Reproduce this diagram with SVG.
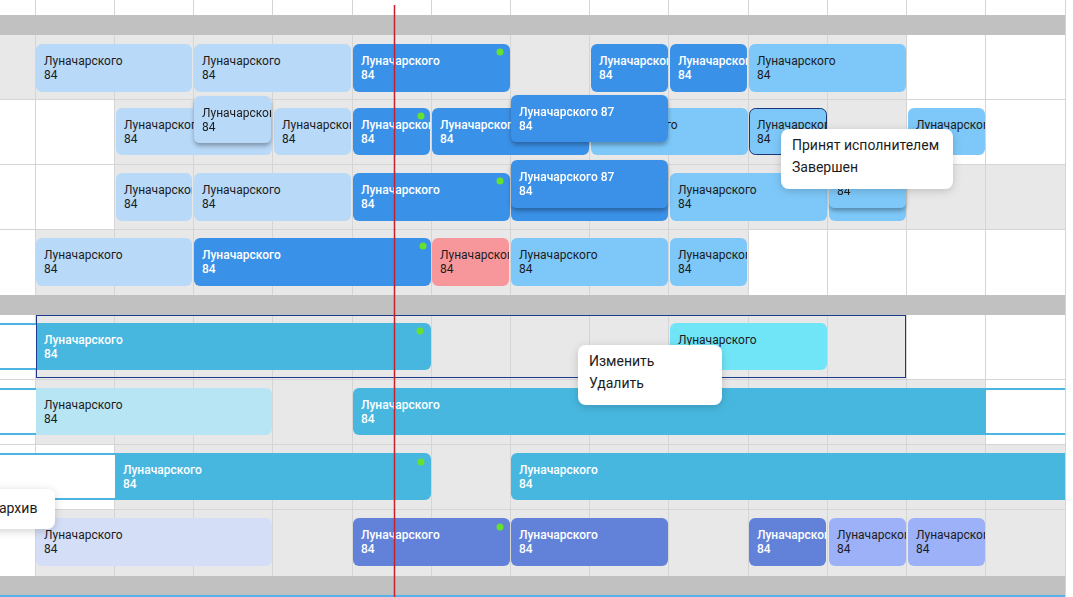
<svg xmlns="http://www.w3.org/2000/svg" width="1073" height="597" viewBox="0 0 1073 597">
<style>
text{font-family:Roboto,"Liberation Sans",sans-serif;font-size:12px}
.tb{fill:#1c1c1c}
.tw{fill:#ffffff;font-weight:500}
.pt{font-size:14px;fill:#1c1c1c}
.lt{fill:#b9d9f8}
.md{fill:#7dc8f9}
.dk{fill:#3a91e8}
.pk{fill:#f8979b}
.cy{fill:#47b7df}
.lc{fill:#b8e5f4}
.bc{fill:#70e5f8}
.lv{fill:#d4def7}
.pw{fill:#6282da}
.lp{fill:#9cb1f8}
.dot{fill:#66e22e}
.gr{fill:#e8e8e8}
.bar{fill:#c1c1c1}
.gl{stroke:#d5d5d5;stroke-width:1}
.gh{stroke:#4cb4e2;stroke-width:2;fill:none}
.pop{fill:#ffffff}
</style>
<defs>
<filter id="sh" x="-20%" y="-30%" width="140%" height="170%"><feDropShadow dx="0" dy="3" stdDeviation="2" flood-color="#000" flood-opacity="0.3"/></filter>
<filter id="psh" x="-20%" y="-40%" width="140%" height="180%"><feDropShadow dx="0" dy="2" stdDeviation="4" flood-color="#000" flood-opacity="0.18"/></filter>
</defs>
<rect width="1073" height="597" fill="#ffffff"/>
<g id="grid">
<rect class="gr" x="0" y="35" width="907" height="64"/>
<rect class="gr" x="114" y="99" width="793" height="65"/>
<rect class="gr" x="114" y="164" width="951" height="65"/>
<rect class="gr" x="35" y="229" width="713" height="66"/>
<rect class="gr" x="35" y="315" width="872" height="64"/>
<rect class="gr" x="35" y="379" width="951" height="65"/>
<rect class="gr" x="114" y="444" width="951" height="65"/>
<rect class="gr" x="35" y="509" width="1030" height="67"/>
<g class="gl">
<line x1="35.5" y1="0" x2="35.5" y2="597"/>
<line x1="114.5" y1="0" x2="114.5" y2="597"/>
<line x1="193.5" y1="0" x2="193.5" y2="597"/>
<line x1="272.5" y1="0" x2="272.5" y2="597"/>
<line x1="352.5" y1="0" x2="352.5" y2="597"/>
<line x1="431.5" y1="0" x2="431.5" y2="597"/>
<line x1="510.5" y1="0" x2="510.5" y2="597"/>
<line x1="589.5" y1="0" x2="589.5" y2="597"/>
<line x1="668.5" y1="0" x2="668.5" y2="597"/>
<line x1="748.5" y1="0" x2="748.5" y2="597"/>
<line x1="827.5" y1="0" x2="827.5" y2="597"/>
<line x1="906.5" y1="0" x2="906.5" y2="597"/>
<line x1="985.5" y1="0" x2="985.5" y2="597"/>
<line x1="1065.5" y1="0" x2="1065.5" y2="597"/>
<line x1="0" y1="99.5" x2="1065" y2="99.5"/>
<line x1="0" y1="164.5" x2="1065" y2="164.5"/>
<line x1="0" y1="229.5" x2="1065" y2="229.5"/>
<line x1="0" y1="379.5" x2="1065" y2="379.5"/>
<line x1="0" y1="444.5" x2="1065" y2="444.5"/>
<line x1="0" y1="509.5" x2="1065" y2="509.5"/>
</g>
<rect class="bar" x="0" y="15" width="1065" height="20"/>
<rect class="bar" x="0" y="295" width="1065" height="20"/>
<rect class="bar" x="0" y="576" width="1065" height="19"/>
<rect x="0" y="595" width="1065" height="2" fill="#58b2e8"/>
</g>
<g id="connectors"></g>
<g id="row1">
<g id="a1"><svg x="36" y="44" width="156" height="48"><rect class="lt" width="156" height="48" rx="6"/><text class="tb" x="8" y="21">Луначарского</text><text class="tb" x="8" y="35">84</text></svg></g>
<g id="a2"><svg x="194" y="44" width="157" height="48"><rect class="lt" width="157" height="48" rx="6"/><text class="tb" x="8" y="21">Луначарского</text><text class="tb" x="8" y="35">84</text></svg></g>
<g id="a3"><svg x="353" y="44" width="157" height="48"><rect class="dk" width="157" height="48" rx="6"/><text class="tw" x="8" y="21">Луначарского</text><text class="tw" x="8" y="35">84</text><circle class="dot" cx="147" cy="8" r="3.5"/></svg></g>
<g id="a4"><svg x="591" y="44" width="77" height="48"><rect class="dk" width="77" height="48" rx="6"/><text class="tw" x="8" y="21">Луначарского</text><text class="tw" x="8" y="35">84</text></svg></g>
<g id="a5"><svg x="670" y="44" width="77" height="48"><rect class="dk" width="77" height="48" rx="6"/><text class="tw" x="8" y="21">Луначарского</text><text class="tw" x="8" y="35">84</text></svg></g>
<g id="a6"><svg x="749" y="44" width="157" height="48"><rect class="md" width="157" height="48" rx="6"/><text class="tb" x="8" y="21">Луначарского</text><text class="tb" x="8" y="35">84</text></svg></g>
</g>
<g id="row2">
<g id="b1"><svg x="116" y="108" width="156" height="47"><rect class="lt" width="156" height="47" rx="6"/><text class="tb" x="8" y="21">Луначарского</text><text class="tb" x="8" y="35">84</text></svg></g>
<g id="b3"><svg x="274" y="108" width="77" height="47"><rect class="lt" width="77" height="47" rx="6"/><text class="tb" x="8" y="21">Луначарского</text><text class="tb" x="8" y="35">84</text></svg></g>
<g id="b2" filter="url(#sh)"><svg x="194" y="96" width="77" height="47"><rect class="lt" width="77" height="47" rx="6"/><text class="tb" x="8" y="21">Луначарского</text><text class="tb" x="8" y="35">84</text></svg></g>
<g id="b4"><svg x="353" y="108" width="77" height="47"><rect class="dk" width="77" height="47" rx="6"/><text class="tw" x="8" y="21">Луначарского</text><text class="tw" x="8" y="35">84</text><circle class="dot" cx="68" cy="8" r="3.5"/></svg></g>
<g id="b5"><svg x="432" y="108" width="157" height="47"><rect class="dk" width="157" height="47" rx="6"/><text class="tw" x="8" y="21">Луначарского</text><text class="tw" x="8" y="35">84</text></svg></g>
<g id="b6"><svg x="591" y="108" width="157" height="47"><rect class="md" width="157" height="47" rx="6"/><text class="tb" x="8" y="21">Луначарского</text></svg></g>
<g id="b7"><svg x="749" y="108" width="78" height="47"><rect class="md" x="0.5" y="0.5" width="77" height="46" rx="6" stroke="#1c3578" stroke-width="1"/><text class="tb" x="8" y="21">Луначарского</text><text class="tb" x="8" y="35">84</text></svg></g>
<g id="b8"><svg x="908" y="108" width="77" height="47"><rect class="md" width="77" height="47" rx="6"/><text class="tb" x="8" y="21">Луначарского</text></svg></g>
<g id="b9" filter="url(#sh)"><svg x="511" y="95" width="157" height="47"><rect class="dk" width="157" height="47" rx="6"/><text class="tw" x="8" y="21">Луначарского 87</text><text class="tw" x="8" y="35">84</text></svg></g>
</g>
<g id="row3">
<g id="c1"><svg x="116" y="173" width="76" height="48"><rect class="lt" width="76" height="48" rx="6"/><text class="tb" x="8" y="21">Луначарского</text><text class="tb" x="8" y="35">84</text></svg></g>
<g id="c2"><svg x="194" y="173" width="157" height="48"><rect class="lt" width="157" height="48" rx="6"/><text class="tb" x="8" y="21">Луначарского</text><text class="tb" x="8" y="35">84</text></svg></g>
<g id="c3"><svg x="353" y="173" width="157" height="48"><rect class="dk" width="157" height="48" rx="6"/><text class="tw" x="8" y="21">Луначарского</text><text class="tw" x="8" y="35">84</text><circle class="dot" cx="147" cy="8" r="3.5"/></svg></g>
<g id="c4"><svg x="511" y="173" width="157" height="48"><rect class="dk" width="157" height="48" rx="6"/></svg></g>
<g id="c6"><svg x="670" y="173" width="157" height="48"><rect class="md" width="157" height="48" rx="6"/><text class="tb" x="8" y="21">Луначарского</text><text class="tb" x="8" y="35">84</text></svg></g>
<g id="c7"><svg x="829" y="173" width="77" height="48"><rect class="md" width="77" height="48" rx="6"/></svg></g>
<g id="c5" filter="url(#sh)"><svg x="511" y="160" width="157" height="48"><rect class="dk" width="157" height="48" rx="6"/><text class="tw" x="8" y="21">Луначарского 87</text><text class="tw" x="8" y="35">84</text></svg></g>
<g id="c8" filter="url(#sh)"><svg x="829" y="160" width="77" height="48"><rect class="md" width="77" height="48" rx="6"/><text class="tb" x="8" y="35">84</text></svg></g>
</g>
<g id="row4">
<g id="d1"><svg x="36" y="238" width="156" height="48"><rect class="lt" width="156" height="48" rx="6"/><text class="tb" x="8" y="21">Луначарского</text><text class="tb" x="8" y="35">84</text></svg></g>
<g id="d2"><svg x="194" y="238" width="237" height="48"><rect class="dk" width="237" height="48" rx="6"/><text class="tw" x="8" y="21">Луначарского</text><text class="tw" x="8" y="35">84</text><circle class="dot" cx="229" cy="8" r="3.5"/></svg></g>
<g id="d3"><svg x="432" y="238" width="77" height="48"><rect class="pk" width="77" height="48" rx="6"/><text class="tb" x="8" y="21">Луначарского</text><text class="tb" x="8" y="35">84</text></svg></g>
<g id="d4"><svg x="511" y="238" width="157" height="48"><rect class="md" width="157" height="48" rx="6"/><text class="tb" x="8" y="21">Луначарского</text><text class="tb" x="8" y="35">84</text></svg></g>
<g id="d5"><svg x="670" y="238" width="77" height="48"><rect class="md" width="77" height="48" rx="6"/><text class="tb" x="8" y="21">Луначарского</text><text class="tb" x="8" y="35">84</text></svg></g>
</g>
<g id="row5">
<g id="e0"><rect x="0" y="324" width="36" height="45" fill="#ffffff"/><line class="gh" x1="0" y1="324" x2="36" y2="324"/><line class="gh" x1="0" y1="369" x2="36" y2="369"/></g>
<g id="e1"><svg x="36" y="323" width="395" height="47"><rect class="cy" width="395" height="47" rx="6"/><rect class="cy" width="10" height="47"/><text class="tw" x="8" y="21">Луначарского</text><text class="tw" x="8" y="35">84</text><circle class="dot" cx="384" cy="8" r="3.5"/></svg></g>
<g id="e2"><svg x="670" y="323" width="157" height="47"><rect class="bc" width="157" height="47" rx="6"/><text class="tb" x="8" y="21">Луначарского</text></svg></g>
<rect id="selection" x="36.5" y="315.5" width="869" height="62" fill="none" stroke="#1c3a8a" stroke-width="1"/>
</g>
<g id="row6">
<g id="f0"><rect x="0" y="389" width="36" height="45" fill="#ffffff"/><line class="gh" x1="0" y1="389" x2="36" y2="389"/><line class="gh" x1="0" y1="434" x2="36" y2="434"/></g>
<g id="f1"><svg x="36" y="388" width="236" height="47"><rect class="lc" width="236" height="47" rx="6"/><rect class="lc" width="10" height="47"/><text class="tb" x="8" y="21">Луначарского</text><text class="tb" x="8" y="35">84</text></svg></g>
<g id="f2"><svg x="353" y="388" width="633" height="47"><rect class="cy" width="633" height="47" rx="6"/><rect class="cy" x="620" width="13" height="47"/><text class="tw" x="8" y="21">Луначарского</text><text class="tw" x="8" y="35">84</text></svg></g>
<g id="f3"><rect x="986" y="389" width="79" height="45" fill="#ffffff"/><line class="gh" x1="986" y1="389" x2="1065" y2="389"/><line class="gh" x1="986" y1="434" x2="1065" y2="434"/></g>
</g>
<g id="row7">
<g id="g0"><rect x="0" y="454" width="115" height="45" fill="#ffffff"/><line class="gh" x1="0" y1="454" x2="115" y2="454"/><line class="gh" x1="0" y1="499" x2="115" y2="499"/></g>
<g id="g1"><svg x="115" y="453" width="316" height="47"><rect class="cy" width="316" height="47" rx="6"/><rect class="cy" width="10" height="47"/><text class="tw" x="8" y="21">Луначарского</text><text class="tw" x="8" y="35">84</text><circle class="dot" cx="306" cy="9" r="3.5"/></svg></g>
<g id="g2"><svg x="511" y="453" width="554" height="47"><rect class="cy" width="554" height="47" rx="6"/><rect class="cy" x="540" width="14" height="47"/><text class="tw" x="8" y="21">Луначарского</text><text class="tw" x="8" y="35">84</text></svg></g>
</g>
<g id="row8">
<g id="h1"><svg x="36" y="518" width="236" height="48"><rect class="lv" width="236" height="48" rx="6"/><text class="tb" x="8" y="21">Луначарского</text><text class="tb" x="8" y="35">84</text></svg></g>
<g id="h2"><svg x="353" y="518" width="157" height="48"><rect class="pw" width="157" height="48" rx="6"/><text class="tw" x="8" y="21">Луначарского</text><text class="tw" x="8" y="35">84</text><circle class="dot" cx="147" cy="9" r="3.5"/></svg></g>
<g id="h3"><svg x="511" y="518" width="157" height="48"><rect class="pw" width="157" height="48" rx="6"/><text class="tw" x="8" y="21">Луначарского</text><text class="tw" x="8" y="35">84</text></svg></g>
<g id="h4"><svg x="749" y="518" width="77" height="48"><rect class="pw" width="77" height="48" rx="6"/><text class="tw" x="8" y="21">Луначарского</text><text class="tw" x="8" y="35">84</text></svg></g>
<g id="h5"><svg x="829" y="518" width="77" height="48"><rect class="lp" width="77" height="48" rx="6"/><text class="tb" x="8" y="21">Луначарского</text><text class="tb" x="8" y="35">84</text></svg></g>
<g id="h6"><svg x="908" y="518" width="77" height="48"><rect class="lp" width="77" height="48" rx="6"/><text class="tb" x="8" y="21">Луначарского</text><text class="tb" x="8" y="35">84</text></svg></g>
</g>
<line id="now-line" x1="394.5" y1="5" x2="394.5" y2="597" stroke="#c8202a" stroke-width="1.5"/>
<g id="menu-status">
<rect class="pop" x="781" y="129" width="172" height="60" rx="8" filter="url(#psh)"/>
<text class="pt" x="792" y="150">Принят исполнителем</text>
<text class="pt" x="792" y="172">Завершен</text>
</g>
<g id="menu-edit">
<rect class="pop" x="578" y="345" width="144" height="60" rx="8" filter="url(#psh)"/>
<text class="pt" x="589" y="366">Изменить</text>
<text class="pt" x="589" y="388">Удалить</text>
</g>
<g id="menu-archive">
<rect class="pop" x="-20" y="489" width="75" height="40" rx="8" filter="url(#psh)"/>
<text class="pt" x="-1" y="513">архив</text>
</g>
</svg>
